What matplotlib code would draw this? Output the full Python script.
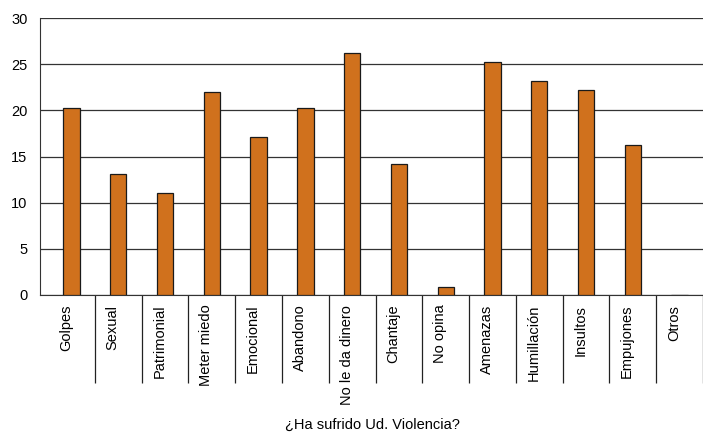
import numpy as np
import matplotlib.pyplot as plt
from matplotlib.transforms import blended_transform_factory

plt.rcParams['font.family'] = ['Liberation Sans', 'DejaVu Sans']

categories = ["Golpes", "Sexual", "Patrimonial", "Meter miedo", "Emocional",
              "Abandono", "No le da dinero", "Chantaje", "No opina", "Amenazas",
              "Humillación", "Insultos", "Empujones", "Otros"]
values = [20.2, 13.1, 11.1, 22.0, 17.1, 20.3, 26.2, 14.2, 0.9, 25.2,
          23.2, 22.2, 16.2, 0]
y_ticks = [0, 5, 10, 15, 20, 25, 30]
x_title = "¿Ha sufrido Ud. Violencia?"

fig = plt.figure(figsize=(7.03, 4.36), dpi=100)
ax = fig.add_axes([40 / 703, 141 / 436, 663 / 703, 277 / 436])

x = np.arange(len(categories))
ax.bar(x, values, width=0.35, color="#D0711D", edgecolor="#1a1a1a",
       linewidth=0.9, zorder=3)

ax.set_ylim(0, 30)
ax.set_xlim(-0.672, 13.256)
ax.set_yticks(y_ticks)
ax.yaxis.grid(True, color="#333333", linewidth=0.9)
ax.set_axisbelow(True)
ax.tick_params(axis="y", length=0, pad=9, labelsize=10.5)

for side in ["right", "top"]:
    ax.spines[side].set_visible(False)
ax.spines["left"].set_color("#333333")
ax.spines["bottom"].set_color("#333333")

# category separators hanging below the axis
ax.set_xticks(x + 0.5, minor=True)
ax.set_xticks([])
ax.tick_params(axis="x", which="minor", direction="out", length=63,
               width=0.9, color="#222222")

trans = blended_transform_factory(ax.transData, ax.transAxes)
for i, name in enumerate(categories):
    ax.text(i - 0.12, -0.035, name, rotation=90, ha="center", va="top",
            fontsize=10.5, transform=trans)

fig.text(372 / 703, 1 - 425 / 436, x_title, ha="center", va="center",
         fontsize=10.5)

fig.savefig("out.png", dpi=100)
